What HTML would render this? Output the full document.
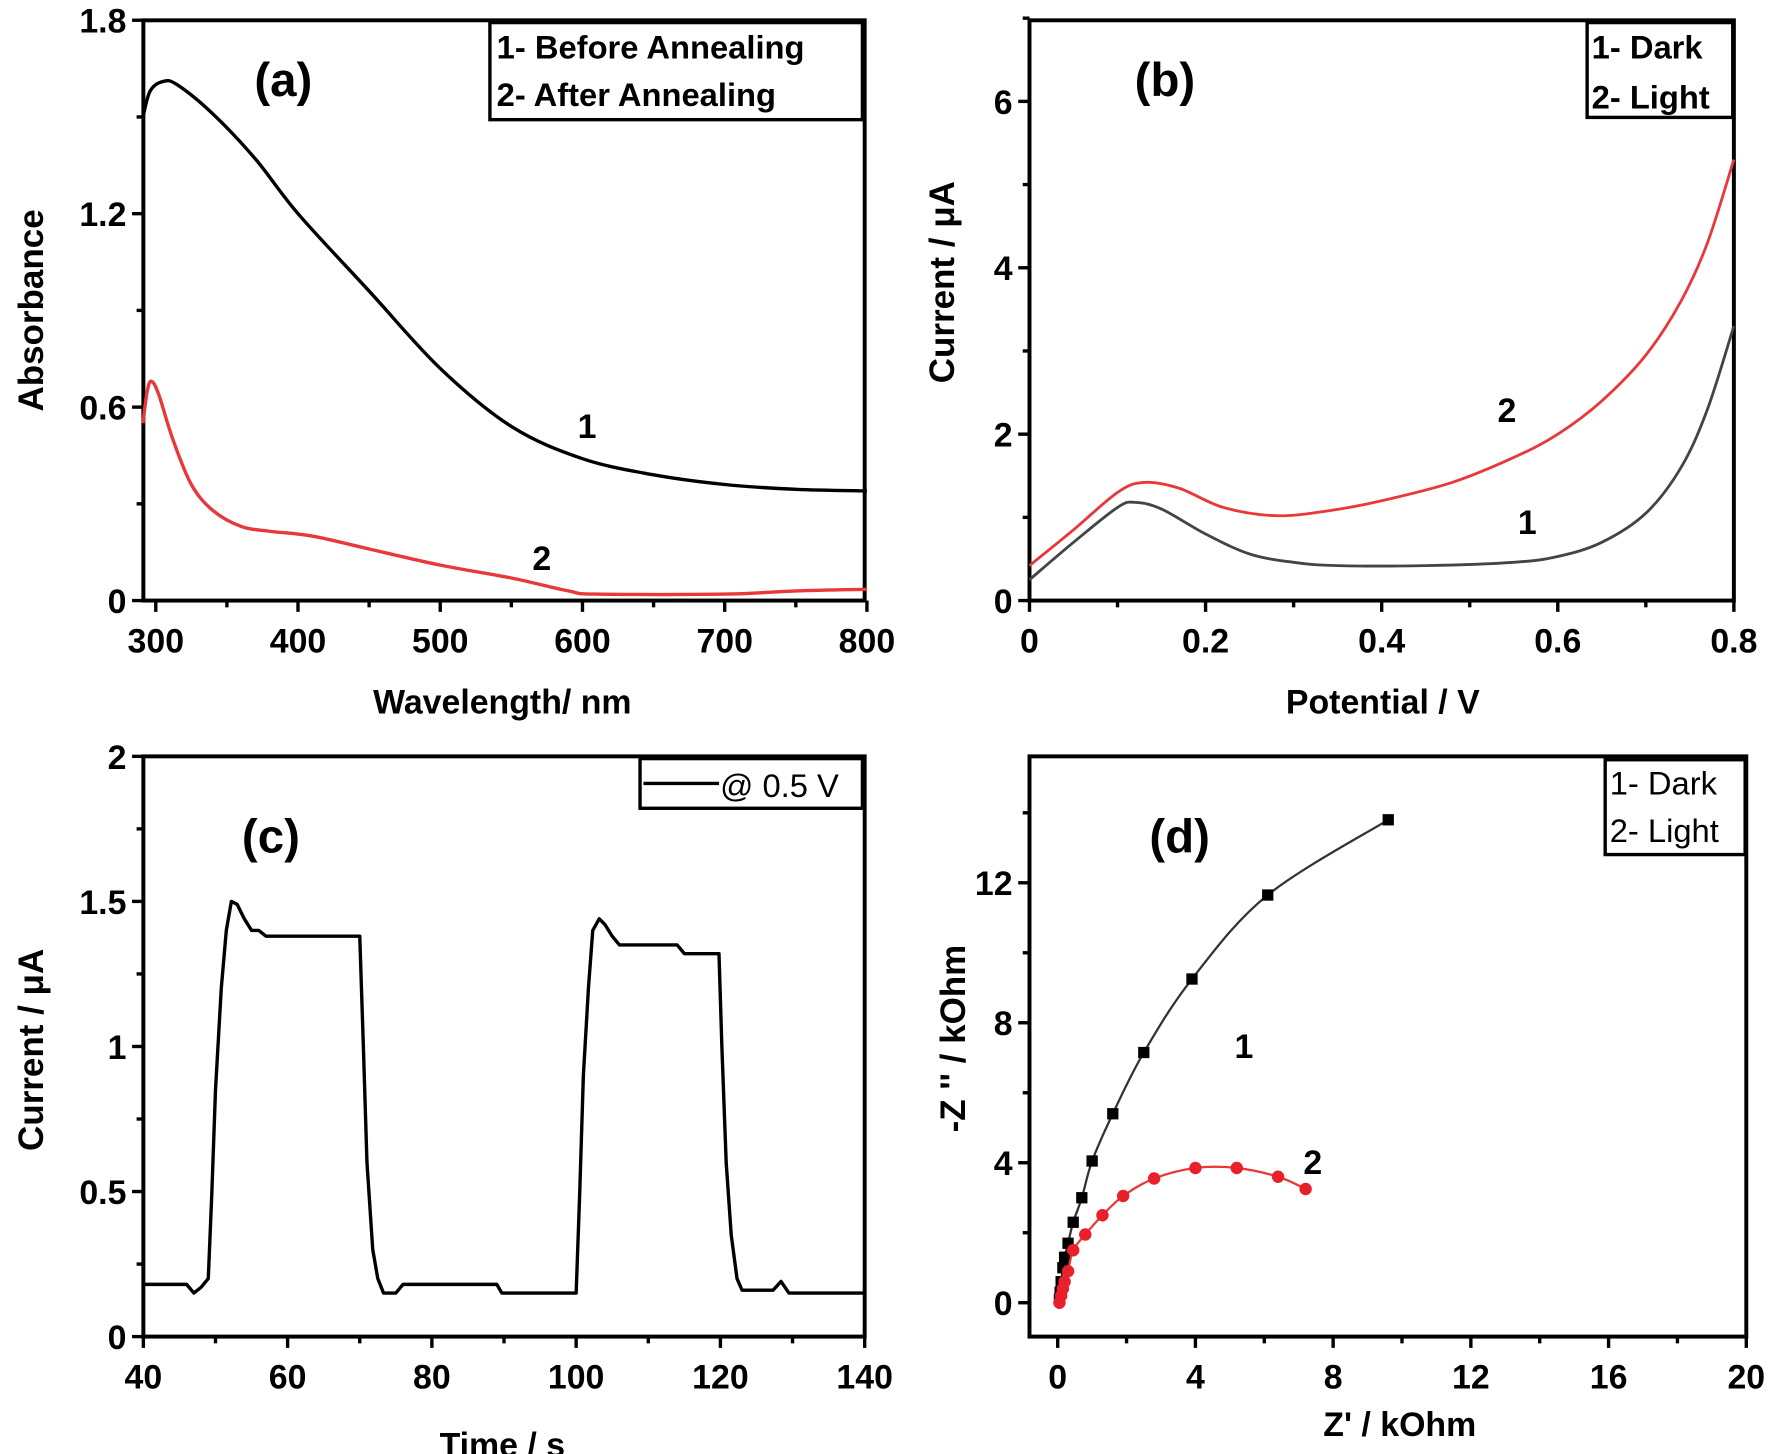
<!DOCTYPE html>
<html><head><meta charset="utf-8"><style>
html,body{margin:0;padding:0;background:#fff;width:1770px;height:1454px;overflow:hidden}
svg{display:block}
text{font-family:"Liberation Sans",Arial,sans-serif;font-weight:bold;fill:#000}
.n{font-weight:normal}
</style></head><body>
<svg id="s" width="1770" height="1454" viewBox="0 0 1568 1288" preserveAspectRatio="none" xmlns="http://www.w3.org/2000/svg"></svg>
<script>
var S=document.getElementById('s'),h='';
function line(x1,y1,x2,y2,w,c){h+='<line x1="'+x1+'" y1="'+y1+'" x2="'+x2+'" y2="'+y2+'" stroke="'+(c||'#000')+'" stroke-width="'+(w||3)+'"/>';}
function txt(x,y,t,sz,anc,extra){h+='<text x="'+x+'" y="'+y+'" font-size="'+sz+'" text-anchor="'+(anc||'middle')+'" '+(extra||'')+'>'+t+'</text>';}
function smooth(pts){var d='M'+pts[0][0]+','+pts[0][1];for(var i=0;i<pts.length-1;i++){var p0=pts[i-1]||pts[i],p1=pts[i],p2=pts[i+1],p3=pts[i+2]||p2;
d+=' C'+(p1[0]+(p2[0]-p0[0])/6)+','+(p1[1]+(p2[1]-p0[1])/6)+' '+(p2[0]-(p3[0]-p1[0])/6)+','+(p2[1]-(p3[1]-p1[1])/6)+' '+p2[0]+','+p2[1];}return d;}
function path(d,c,w){h+='<path d="'+d+'" fill="none" stroke="'+c+'" stroke-width="'+w+'" stroke-linejoin="round"/>';}
function poly(pts){return 'M'+pts.map(function(p){return p[0]+','+p[1]}).join(' L');}
function box(x1,y1,x2,y2){h+='<rect x="'+x1+'" y="'+y1+'" width="'+(x2-x1)+'" height="'+(y2-y1)+'" fill="none" stroke="#000" stroke-width="3.5"/>';}
function xt(X,y0,len){line(X,y0,X,y0+len,3);}
function yt(Y,x0,len){line(x0,Y,x0-len,Y,3);}

// (a)
var ax=function(v){return 138+(v-300)*1.26},ay=function(v){return 532-v*285.6};
box(127,18,766,532);
[300,400,500,600,700,800].forEach(function(v){xt(ax(v),532,10);txt(ax(v),578,v,30);});
[350,450,550,650,750].forEach(function(v){xt(ax(v),532,6);});
[[0,'0'],[0.6,'0.6'],[1.2,'1.2'],[1.8,'1.8']].forEach(function(a){yt(ay(a[0]),127,10);txt(112,ay(a[0])+11,a[1],30,'end');});
[0.3,0.9,1.5].forEach(function(v){yt(ay(v),127,6);});
var c1=[[291,1.5],[296,1.58],[305,1.61],[315,1.6],[340,1.51],[370,1.37],[400,1.2],[450,0.96],[500,0.72],[550,0.54],[600,0.44],[650,0.39],[700,0.36],[750,0.345],[800,0.34]].map(function(p){return[ax(p[0]),ay(p[1])]});
path(smooth(c1),'#000',3);
var c2=[[291,0.55],[294,0.65],[297,0.68],[302,0.64],[312,0.5],[325,0.36],[340,0.28],[360,0.23],[380,0.215],[410,0.2],[450,0.16],[500,0.11],[550,0.07],[590,0.03],[610,0.02],[700,0.02],[750,0.03],[800,0.035]].map(function(p){return[ax(p[0]),ay(p[1])]});
path(smooth(c2),'#e8383a',3);
h+='<rect x="434" y="20" width="330" height="86" fill="#fff" stroke="#000" stroke-width="3"/>';
txt(440,52,'1- Before Annealing',29,'start');txt(440,94,'2- After Annealing',29,'start');
txt(251,85,'(a)',42);txt(520,388,'1',30);txt(480,505,'2',30);
txt(0,0,'Absorbance',31,'middle','transform="translate(38,275) rotate(-90)"');
txt(445,632,'Wavelength/ nm',30);

// (b)
var bx=function(v){return 912+v*780},by=function(v){return 532-v*73.7};
box(912,18,1536,532);
[[0,'0'],[0.2,'0.2'],[0.4,'0.4'],[0.6,'0.6'],[0.8,'0.8']].forEach(function(a){xt(bx(a[0]),532,10);txt(bx(a[0]),578,a[1],30);});
[0.1,0.3,0.5,0.7].forEach(function(v){xt(bx(v),532,6);});
[0,2,4,6].forEach(function(v){yt(by(v),912,10);txt(897,by(v)+11,v,30,'end');});
[1,3,5,7].forEach(function(v){yt(by(v),912,6);});
var b2=[[0,0.42],[0.05,0.85],[0.1,1.3],[0.13,1.42],[0.17,1.35],[0.22,1.12],[0.28,1.02],[0.34,1.08],[0.4,1.2],[0.48,1.42],[0.55,1.72],[0.6,2.0],[0.65,2.4],[0.7,2.95],[0.74,3.6],[0.77,4.3],[0.8,5.3]].map(function(p){return[bx(p[0]),by(p[1])]});
path(smooth(b2),'#e8383a',2.5);
var b1=[[0,0.25],[0.05,0.7],[0.1,1.12],[0.12,1.18],[0.15,1.1],[0.2,0.8],[0.25,0.56],[0.3,0.46],[0.35,0.42],[0.45,0.42],[0.55,0.46],[0.6,0.53],[0.65,0.7],[0.7,1.05],[0.74,1.6],[0.77,2.3],[0.8,3.3]].map(function(p){return[bx(p[0]),by(p[1])]});
path(smooth(b1),'#444',2.5);
h+='<rect x="1406" y="20" width="129" height="84" fill="#fff" stroke="#000" stroke-width="3"/>';
txt(1410,52,'1- Dark',29,'start');txt(1410,96,'2- Light',29,'start');
txt(1032,85,'(b)',42);txt(1335,374,'2',30);txt(1353,473,'1',30);
txt(0,0,'Current / \u03bcA',31,'middle','transform="translate(845,250) rotate(-90)"');
txt(1225,632,'Potential / V',30);

// (c)
var cx=function(v){return 127+(v-40)*6.39},cy=function(v){return 1184-v*257};
box(127,670,766,1184);
[40,60,80,100,120,140].forEach(function(v){xt(cx(v),1184,10);txt(cx(v),1230,v,30);});
[50,70,90,110,130].forEach(function(v){xt(cx(v),1184,6);});
[[0,'0'],[0.5,'0.5'],[1,'1'],[1.5,'1.5'],[2,'2']].forEach(function(a){yt(cy(a[0]),127,10);txt(112,cy(a[0])+11,a[1],30,'end');});
[0.25,0.75,1.25,1.75].forEach(function(v){yt(cy(v),127,6);});
var cd=[[40,0.18],[46,0.18],[47,0.15],[48,0.17],[49,0.2],[49.5,0.5],[50,0.85],[50.8,1.2],[51.5,1.4],[52.2,1.5],[53,1.49],[54,1.44],[55,1.4],[56,1.4],[57,1.38],[70,1.38],[70.5,1.0],[71,0.6],[71.8,0.3],[72.5,0.2],[73.3,0.15],[75,0.15],[76,0.18],[89,0.18],[89.7,0.15],[100,0.15],[100.5,0.5],[101,0.9],[101.7,1.2],[102.3,1.4],[103.2,1.44],[104,1.42],[105,1.38],[106,1.35],[114,1.35],[115,1.32],[119.8,1.32],[120.2,1.0],[120.8,0.6],[121.5,0.35],[122.3,0.2],[123,0.16],[127.3,0.16],[128.4,0.19],[129.5,0.15],[140,0.15]].map(function(p){return[cx(p[0]),cy(p[1])]});
path(poly(cd),'#000',3);
h+='<rect x="567" y="672" width="197" height="44" fill="#fff" stroke="#000" stroke-width="3"/>';
line(570,694,637,694,3);txt(638,706,'@ 0.5 V',29,'start','class="n"');
txt(240,755,'(c)',42);
txt(0,0,'Current / \u03bcA',31,'middle','transform="translate(38,930) rotate(-90)"');
txt(445,1290,'Time / s',30);

// (d)
var dx=function(v){return 937+v*30.5},dy=function(v){return 1154-v*31};
box(912,670,1547,1184);
[0,4,8,12,16,20].forEach(function(v){xt(dx(v),1184,10);txt(dx(v),1230,v,30);});
[2,6,10,14,18].forEach(function(v){xt(dx(v),1184,6);});
[0,4,8,12].forEach(function(v){yt(dy(v),912,10);txt(897,dy(v)+11,v,30,'end');});
[2,6,10,14].forEach(function(v){yt(dy(v),912,6);});
var d1=[[0.05,0.1],[0.07,0.3],[0.1,0.6],[0.15,1],[0.2,1.3],[0.3,1.7],[0.45,2.3],[0.7,3.0],[1.0,4.05],[1.6,5.4],[2.5,7.15],[3.9,9.25],[6.1,11.65],[9.6,13.8]].map(function(p){return[dx(p[0]),dy(p[1])]});
path(smooth(d1),'#333',2);
d1.forEach(function(p){h+='<rect x="'+(p[0]-5)+'" y="'+(p[1]-5)+'" width="10" height="10" fill="#000"/>';});
var d2=[[0.05,0],[0.1,0.2],[0.15,0.4],[0.2,0.6],[0.3,0.9],[0.45,1.5],[0.8,1.95],[1.3,2.5],[1.9,3.05],[2.8,3.55],[4,3.85],[5.2,3.85],[6.4,3.6],[7.2,3.25]].map(function(p){return[dx(p[0]),dy(p[1])]});
path(smooth(d2),'#e8383a',2);
d2.forEach(function(p){h+='<circle cx="'+p[0]+'" cy="'+p[1]+'" r="5.5" fill="#e8202a"/>';});
h+='<rect x="1422" y="673" width="124" height="84" fill="#fff" stroke="#000" stroke-width="3"/>';
txt(1426,704,'1- Dark',29,'start','class="n"');txt(1426,746,'2- Light',29,'start','class="n"');
txt(1045,755,'(d)',42);txt(1102,937,'1',30);txt(1163,1040,'2',30);
txt(0,0,'-Z \'\' / kOhm',31,'middle','transform="translate(855,920) rotate(-90)"');
txt(1240,1272,'Z\' / kOhm',30);
S.innerHTML=h;
</script>
</body></html>
